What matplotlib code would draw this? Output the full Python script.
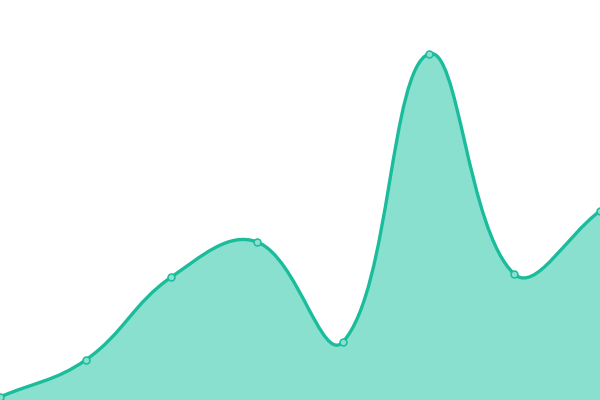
import numpy as np
import matplotlib
matplotlib.use("Agg")
import matplotlib.pyplot as plt
from matplotlib.path import Path
from matplotlib.patches import PathPatch

# values (y axis 0..400, hidden)
labels = ["A", "B", "C", "D", "E", "F", "G", "H"]
values = [3, 40, 123, 158, 58, 346, 126, 189]

line_color = "#1abc9c"
fill_color = "#8ae0cf"
tension = 0.4

W, H = 600, 400
y_max = 400


def spline_controls(px, py, t):
    # Chart.js style bezier control points, worked out in pixel space
    n = len(px)
    c1 = []
    c2 = []
    for i in range(n):
        pi = max(i - 1, 0)
        ni = min(i + 1, n - 1)
        d01 = np.hypot(px[i] - px[pi], py[i] - py[pi])
        d12 = np.hypot(px[ni] - px[i], py[ni] - py[i])
        tot = d01 + d12
        s01 = d01 / tot if tot else 0
        s12 = d12 / tot if tot else 0
        fa = t * s01
        fb = t * s12
        c1.append((px[i] - fa * (px[ni] - px[pi]), py[i] - fa * (py[ni] - py[pi])))
        c2.append((px[i] + fb * (px[ni] - px[pi]), py[i] + fb * (py[ni] - py[pi])))
    return c1, c2


x = np.arange(len(values))
sx = W / (len(values) - 1)
sy = H / y_max
px = x * sx
py = np.array(values) * sy
c1, c2 = spline_controls(px, py, tension)

verts = [(px[0], py[0])]
codes = [Path.MOVETO]
for i in range(len(px) - 1):
    verts += [c2[i], c1[i + 1], (px[i + 1], py[i + 1])]
    codes += [Path.CURVE4] * 3

# back to data coordinates
verts = [(vx / sx, vy / sy) for vx, vy in verts]

fig = plt.figure(figsize=(6, 4), dpi=100)
ax = fig.add_axes([0, 0, 1, 1])

fill_verts = verts + [(x[-1], 0), (x[0], 0), verts[0]]
fill_codes = codes + [Path.LINETO, Path.LINETO, Path.CLOSEPOLY]
ax.add_patch(PathPatch(Path(fill_verts, fill_codes), facecolor=fill_color,
                       edgecolor="none", zorder=1))
ax.add_patch(PathPatch(Path(verts, codes), facecolor="none", edgecolor=line_color,
                       lw=2.4, zorder=2, capstyle="round", joinstyle="round"))
ax.plot(x, values, "o", ms=5, mfc=fill_color, mec=line_color, mew=1.1,
        zorder=3, clip_on=False)

ax.set_xlim(x[0], x[-1])
ax.set_ylim(0, y_max)
ax.axis("off")

fig.savefig("out.png", dpi=100)
